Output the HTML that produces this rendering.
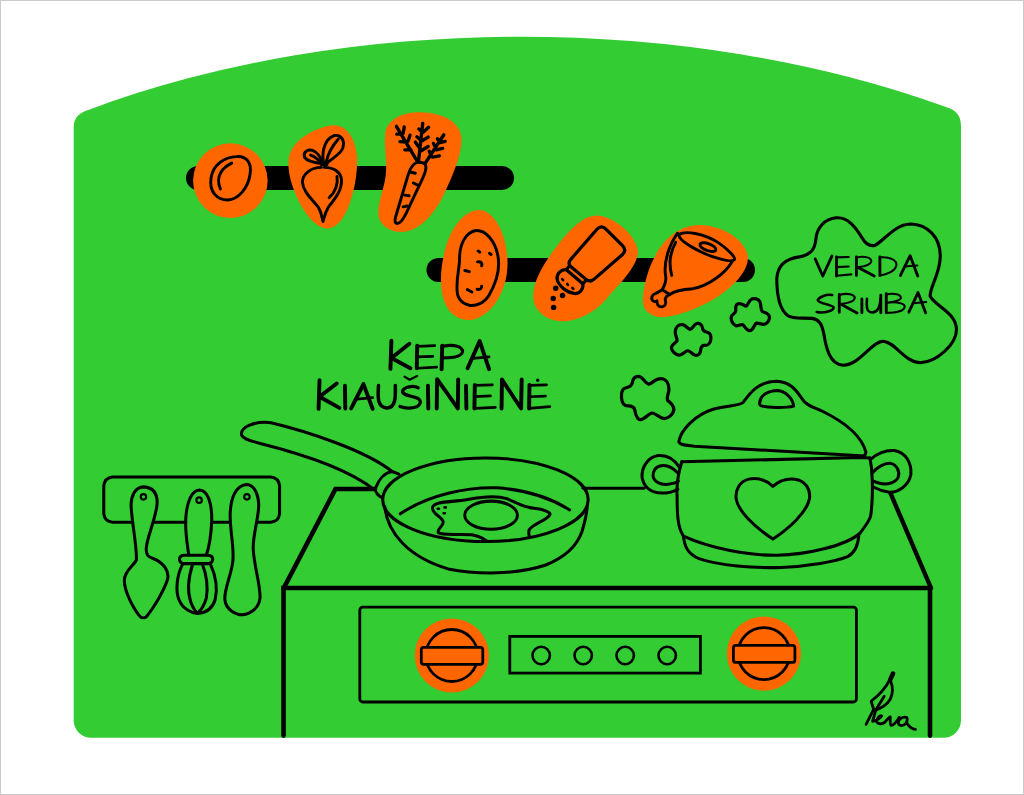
<!DOCTYPE html>
<html lang="lt">
<head>
<meta charset="utf-8">
<title>Kepa kiaušinienė – Verda sriuba</title>
<style>
html,body{margin:0;padding:0;background:#fff;width:1024px;height:795px;overflow:hidden;font-family:"Liberation Sans",sans-serif;}
svg{display:block;position:absolute;left:0;top:0}
.o{fill:#ff6600;stroke:none}
.l{fill:none;stroke:#000;stroke-linecap:round;stroke-linejoin:round}
</style>
</head>
<body>
<svg width="1024" height="795" viewBox="0 0 1024 795" role="img" aria-label="Kepa kiaušinienė. Verda sriuba.">
<rect x="0.5" y="0.5" width="1023" height="794" fill="#fff" stroke="#cbcbcb" stroke-width="1"/>
<!-- PANEL -->
<path d="M73.7 127 Q73.7 113.5 89.7 109.4 A764 416.5 0 0 1 946.7 107.3 Q961 111.5 961 126 L961 720.3 A17.5 17.5 0 0 1 943.5 737.8 L91.2 737.8 A17.5 17.5 0 0 1 73.7 720.3 Z" fill="#33cc33"/>
<!-- BARS -->
<rect x="186" y="166" width="328" height="24" rx="12" fill="#000"/>
<rect x="426.5" y="258" width="328.5" height="24" rx="12" fill="#000"/>
<!-- EGG + BEET  tile[170,100] -->
<g transform="translate(170,100) scale(0.1953125)">
<circle class="o" cx="309" cy="413" r="191"/>
<g class="l" stroke-width="15">
<path d="M340 290 C390 285 420 320 410 380 C400 450 350 510 295 512 C240 512 200 470 210 400 C220 330 280 292 340 290 Z"/>
<path d="M316 323 C270 345 230 390 258 455"/>
</g>
<path class="o" d="M850 130 C910 135 950 200 958 290 C962 400 930 540 880 610 C850 650 820 660 795 657 C750 650 700 600 660 520 C620 440 600 360 608 300 C620 220 700 170 760 148 C800 133 830 128 850 130 Z"/>
<g class="l" stroke-width="15">
<path d="M775 345 C720 345 678 380 678 420 C680 470 730 510 760 550 C775 575 778 600 783 622 C790 600 795 575 810 550 C850 500 880 460 878 410 C875 370 840 345 790 345"/>
<path d="M772 325 C740 320 700 310 690 295 C680 270 700 250 730 258 C750 265 770 290 778 315"/>
<path d="M720 282 C740 290 760 305 772 322"/>
<path d="M787 322 C775 270 790 200 840 182 C880 175 895 210 885 245 C875 275 830 300 805 322"/>
<path d="M800 318 C810 270 840 225 862 200"/>
<path d="M855 392 C862 430 845 475 815 500"/>
<path d="M775 330 L803 330" stroke-width="16"/>
</g>
</g>
<!-- CARROT tile[370,100] -->
<g transform="translate(370,100) scale(0.1953125)">
<path class="o" d="M250 63 C180 63 90 90 78 170 C70 260 95 330 75 420 C55 500 35 560 45 600 C60 650 110 678 170 675 C250 670 330 590 385 470 C430 370 470 280 468 200 C465 120 390 65 250 63 Z"/>
<g class="l" stroke-width="15">
<path d="M240 320 C215 330 205 350 195 385 L135 585 C125 615 125 630 140 632 C155 632 170 610 185 580 L270 400 C290 355 295 325 265 320 C255 318 248 318 240 320 Z"/>
<path d="M210 370 L232 375 M222 425 L248 437 M178 487 L200 490 M170 547 L190 543"/>
<path stroke-width="17" d="M248 316 L270 120 M268 165 L250 148 M272 165 L300 140 M262 207 L240 188 M265 210 L298 190 M258 252 L232 215 M262 260 L298 238"/>
<path stroke-width="17" d="M240 310 L135 135 M165 175 L137 175 M170 170 L175 138 M188 215 L153 213 M195 210 L205 180 M210 255 L178 255"/>
<path stroke-width="17" d="M285 320 L378 178 M355 215 L345 198 M358 218 L385 212 M338 250 L325 222 M340 255 L372 248 M315 290 L303 262 M320 292 L355 286"/>
</g>
</g>
<!-- POTATO tile[400,190] -->
<g transform="translate(400,190) scale(0.1953125)">
<path class="o" d="M400 103 C470 100 540 200 550 350 C558 480 500 610 400 655 C340 680 270 660 235 590 C200 520 205 420 225 330 C250 210 320 108 400 103 Z"/>
<g class="l" stroke-width="15">
<path d="M390 207 C440 205 485 260 500 330 C515 400 490 480 455 540 C430 580 390 595 355 590 C310 580 290 545 292 500 C290 440 305 400 305 350 C305 280 335 215 390 207 Z"/>
<path d="M400 312 L408 318 M458 324 L466 330 M397 368 C415 365 422 375 418 388 M332 412 L355 418 M395 508 C410 512 418 505 418 492 M345 510 L368 522"/>
</g>
</g>
<!-- SALT tile[520,190] -->
<g transform="translate(520,190) scale(0.1953125)">
<path class="o" d="M390 130 C470 130 590 220 603 310 C610 380 520 470 440 560 C380 630 290 670 220 672 C140 672 70 620 68 550 C65 465 122 375 192 283 C262 193 325 132 390 130 Z"/>
<g class="l" stroke-width="16.5">
<path d="M395 200 C410 185 425 185 440 200 L525 285 C540 300 540 315 525 330 L375 460 C362 470 350 468 335 455 L258 390 C248 380 248 370 260 355 Z"/>
<path d="M237 408 L322 480 C325 510 305 532 280 530 C240 525 195 490 190 455 C188 430 210 405 237 408 Z"/>
<path d="M250 392 L237 408 M340 460 L322 480"/>
<path d="M216 456 L221 461 M241 481 L246 486 M268 501 L273 506" stroke-width="13"/>
</g>
<circle cx="183" cy="503" r="14"/><circle cx="218" cy="540" r="14"/><circle cx="170" cy="555" r="14"/><circle cx="172" cy="601" r="14"/>
</g>
<!-- HAM tile[620,200] -->
<g transform="translate(620,200) scale(0.1953125)">
<path class="o" d="M400 128 C500 125 640 190 655 290 C660 380 540 480 440 530 C360 570 270 600 205 600 C150 595 110 560 118 500 C122 420 158 300 222 222 C268 165 335 130 400 128 Z"/>
<g class="l" stroke-width="15">
<path d="M302 177 C332 156 427 170 501 217 C548 248 592 292 586 305 C576 322 481 298 413 265 C359 238 298 204 302 177 Z"/>
<ellipse cx="450" cy="241" rx="43" ry="18" transform="rotate(20 450 241)"/>
<path d="M295 170 C251 231 221 319 234 393 C238 420 227 440 217 457"/>
<path d="M217 459 L184 478 C167 481 156 501 167 515 C173 521 184 520 189 516 C187 532 197 548 214 547 C234 545 238 525 231 508 L238 494 L254 484"/>
<path d="M219 461 L254 484"/>
<path d="M254 484 C285 461 325 457 373 454 C454 440 542 373 576 312"/>
<path d="M285 217 C258 265 248 325 265 386"/>
</g>
</g>
<!-- CLOUDS -->
<g class="l" stroke-width="3.2">
<path transform="translate(720,290) scale(0.05859375)" style="stroke-width:55" d="M450 275 C480 250 490 180 540 155 C590 135 660 150 680 200 C705 260 690 330 720 365 C770 385 840 400 845 460 C845 530 800 580 750 585 C700 590 660 560 625 565 C580 580 580 680 510 695 C450 700 430 620 390 595 C350 580 310 620 270 610 C210 590 180 500 195 450 C215 410 270 400 270 350 C265 310 260 250 310 235 C370 220 410 270 450 275 Z"/>
<path transform="translate(660,315) scale(0.05859375)" style="stroke-width:55" d="M515 245 C560 240 570 160 630 145 C680 135 720 170 725 220 C725 270 760 280 810 295 C860 310 875 370 865 430 C855 490 810 520 770 520 C720 515 700 540 695 590 C690 650 660 690 610 690 C560 685 520 610 475 610 C430 610 390 680 330 685 C270 680 200 620 195 560 C195 500 270 480 290 440 C300 400 255 350 260 280 C270 200 320 160 380 165 C440 170 470 240 515 245 Z"/>
<path transform="translate(612,368) scale(0.0703125)" style="stroke-width:46" d="M520 230 C570 225 610 150 690 150 C770 150 810 220 810 300 C810 370 770 410 790 460 C830 490 880 530 880 590 C875 660 800 720 740 720 C680 715 620 640 570 640 C520 645 470 730 410 735 C350 735 335 660 325 600 C315 550 280 540 230 540 C170 540 140 490 135 420 C130 350 140 300 190 285 C240 275 280 260 290 210 C295 150 330 120 380 120 C440 125 470 220 520 230 Z"/>
</g>
<!-- BUBBLE tile[768,210] -->
<g transform="translate(768,210) scale(0.1953125)" class="l">
<path stroke-width="16" d="M350 40 C410 35 450 90 480 140 C500 175 520 190 550 180 C600 150 650 75 730 72 C820 75 880 140 882 230 C885 320 830 390 830 440 C850 490 960 520 965 610 C965 690 860 780 780 782 C700 780 650 675 590 672 C530 672 470 795 385 795 C310 790 295 690 285 630 C275 580 260 560 225 555 C180 550 130 560 100 540 C60 510 45 430 45 350 C50 280 90 250 160 240 C220 230 240 200 245 150 C250 90 290 45 350 40 Z"/>
</g>
<!-- BUBBLE TEXT tile[805,250] scale 130/1024 -->
<g transform="translate(805,250) scale(0.126953)" class="l">
<g stroke-width="22.5">
<path d="M80 70 L140 205 L212 48"/>
<path d="M248 55 L248 205"/>
<path d="M405 55 L405 200 M415 135 L545 205"/>
<path d="M590 55 L590 200"/>
<path d="M752 200 L828 45 L888 205"/>
<path d="M270 350 L270 490 M280 425 L410 497"/>
<path d="M448 385 L448 495"/>
<path d="M597 355 L597 495"/>
<path d="M640 345 L640 495"/>
<path d="M818 490 L890 335 L950 495"/>
</g>
<g stroke-width="16">
<path d="M248 58 L345 55 M248 135 L345 130 M248 202 L365 192"/>
<path d="M405 60 C470 45 525 60 522 90 C515 120 460 130 415 135"/>
<path d="M590 58 C680 50 725 90 720 120 C710 170 640 195 590 200"/>
<path d="M785 130 L885 122"/>
<path d="M215 355 C170 345 110 370 100 395 C110 425 200 425 225 450 C230 480 150 500 92 488" stroke-width="20"/>
<path d="M270 355 C330 335 395 350 392 380 C385 410 330 420 280 425"/>
<path d="M488 385 C485 440 480 490 530 493 C580 490 592 440 595 385" stroke-width="20"/>
<path d="M640 350 C700 335 760 350 755 380 C745 405 690 410 650 415 C720 405 790 420 785 450 C775 485 700 495 640 495"/>
<path d="M850 420 L955 410"/>
</g>
</g>
<!-- TITLE tile[300,320] -->
<g transform="translate(300,320) scale(0.1953125)" class="l">
<g stroke-width="20">
<path d="M468 106 L463 250 M560 122 L468 195 L565 247"/>
<path d="M600 132 L598 247"/>
<path d="M728 132 L725 252"/>
<path d="M858 247 L920 108 L968 252"/>
<path d="M100 308 L95 455 M188 325 L100 393 L202 450"/>
<path d="M230 336 L232 453"/>
<path d="M262 453 L325 328 L372 455"/>
<path d="M655 336 L657 453"/>
<path d="M700 453 L702 303 L808 453 L810 305"/>
<path d="M850 336 L852 453"/>
<path d="M895 332 L893 453"/>
<path d="M1032 453 L1034 305 L1132 453 L1135 305"/>
<path d="M1175 332 L1173 453"/>
</g>
<g stroke-width="14">
<path d="M600 135 L690 131 M600 189 L680 186 M598 247 L700 241"/>
<path d="M728 136 C790 120 835 138 832 163 C825 188 780 194 735 194" stroke-width="16"/>
<path d="M885 197 L968 189"/>
<path d="M290 405 L372 397"/>
<path d="M402 336 C398 395 395 448 445 451 C490 448 490 395 488 336" stroke-width="18"/>
<path d="M535 290 L561 306 L600 287" stroke-width="11"/>
<path d="M605 347 C580 333 530 342 525 365 C525 388 580 388 605 402 C630 420 610 448 570 450 C545 453 525 448 512 443" stroke-width="17"/>
<path d="M895 335 L985 332 M895 392 L975 389 M893 453 L1000 447"/>
<path d="M1175 335 L1262 332 M1175 393 L1257 390 M1173 453 L1279 443"/>
<path d="M1217 308 L1217 309" stroke-width="17"/>
</g>
</g>
<!-- STOVE (real coords) -->
<g class="l" stroke-linecap="butt">
<path d="M283.5 735.6 L283.5 588 L930 588 L930 735.6" stroke-width="4.6" stroke-linejoin="miter"/>
<path d="M283.8 588 L335.5 489 L375 489" stroke-width="4.6" stroke-linejoin="miter"/>
<path d="M583 488.3 L644 488.3" stroke-width="2.9"/>
<path d="M890.4 493 L931 588" stroke-width="4.4"/>
<rect x="359.8" y="607.1" width="496.6" height="94.9" rx="3" stroke-width="2.8"/>
<rect x="509.8" y="636.4" width="190.6" height="36.7" stroke-width="2.8" stroke-linejoin="miter"/>
<circle cx="541.2" cy="655.5" r="8.7" stroke-width="2.6"/>
<circle cx="583.2" cy="655.5" r="8.7" stroke-width="2.6"/>
<circle cx="625.2" cy="655.5" r="8.7" stroke-width="2.6"/>
<circle cx="667.2" cy="655.5" r="8.7" stroke-width="2.6"/>
</g>
<!-- KNOBS -->
<circle class="o" cx="451.8" cy="655.5" r="37.1"/>
<circle class="l" cx="451.8" cy="655.5" r="26" stroke-width="2.8"/>
<rect x="421.3" y="647.3" width="61.5" height="17" rx="2.5" fill="#ff6600" stroke="#000" stroke-width="2.8"/>
<circle class="o" cx="763.9" cy="653.6" r="37.1"/>
<circle class="l" cx="763.9" cy="653.6" r="26" stroke-width="2.8"/>
<rect x="733.4" y="645.4" width="61.5" height="17" rx="2.5" fill="#ff6600" stroke="#000" stroke-width="2.8"/>
<!-- PAN HANDLE tile[230,410] -->
<g transform="translate(230,410) scale(0.1953125)" class="l" stroke-width="15.5">
<path d="M735 405 C600 300 350 220 150 170 C100 155 70 150 60 130 C50 90 120 55 210 65 C400 110 700 210 830 315"/>
<path d="M865 328 L830 315 C790 320 760 360 745 400 C740 420 760 440 780 450"/>
</g>
<!-- PAN tile[370,440] -->
<g transform="translate(370,440) scale(0.1953125)" class="l" stroke-width="15.5">
<ellipse cx="591" cy="306" rx="526" ry="214"/>
<path d="M75 340 C90 480 200 600 400 660 C550 690 750 690 900 640 C1000 600 1060 540 1085 470 C1100 420 1110 380 1112 340"/>
<path d="M155 378 C300 280 500 240 650 245 C800 255 930 300 1022 358"/>
<path d="M595 515 C580 505 560 490 520 485 C450 480 370 490 350 475 C340 455 375 445 375 420 C370 390 315 380 320 345 C330 310 420 320 500 305 C580 290 650 285 700 300 C750 320 780 345 840 350 C890 355 930 370 920 385 C900 415 830 430 815 460 C810 475 815 485 815 492"/>
<ellipse cx="620" cy="385" rx="135" ry="72"/>
<path d="M347 352 L353 352 M382 345 L388 345 M377 375 L383 375" stroke-width="14"/>
</g>
<!-- POT tile[630,370] -->
<g transform="translate(630,370) scale(0.1953125)" class="l" stroke-width="15.5">
<path d="M1198 438 C1205 435 1208 430 1208 420 C1183 330 1083 260 993 215 C943 190 903 185 883 150 C860 120 830 60 750 58 C660 60 620 110 580 165 C560 185 500 180 430 200 C330 230 260 310 250 365 C250 385 290 385 330 390 L1203 440"/>
<path d="M665 165 C665 130 710 105 755 105 C800 108 835 150 838 185 C800 195 700 195 670 182 C662 178 662 170 665 165 Z"/>
<path d="M265 470 L1183 448 L1228 450"/>
<path d="M265 470 C250 520 238 590 241 640 C241 700 243 740 246 765 C250 800 260 830 273.6 850.8 C403.6 910.8 603.6 950.8 753.6 948.8 C903.6 945.8 1103.6 900.8 1177.6 835.8 C1205 800 1228 770 1232 748 C1240 700 1243 600 1240 560 C1240 520 1235 480 1228 450"/>
<path d="M273.6 850.8 C278.6 900.8 293.6 940.8 353.6 965.8 C453.6 1000.8 633.6 1015.8 773.6 1010.8 C913.6 1005.8 1053.6 980.8 1113.6 955.8 C1153.6 935.8 1168.6 890.8 1171.6 845.8"/>
<path d="M255 500 C230 460 190 435 145 438 C90 445 58 500 62 550 C70 600 110 630 160 630 C200 630 230 620 245 610"/>
<path d="M248 530 C220 500 190 485 160 490 C130 495 115 520 118 545 C125 575 160 590 195 585 C220 582 240 575 248 570"/>
<path d="M1235 455 C1263 430 1303 410 1353 412 C1413 420 1443 480 1438 535 C1428 590 1373 630 1323 625 C1283 620 1258 605 1243 598"/>
<path d="M1243 525 C1263 500 1303 475 1333 478 C1368 485 1383 520 1373 550 C1358 580 1313 590 1278 580 C1263 577 1251 572 1243 568"/>
</g>
<!-- HEART tile[660,460] -->
<g transform="translate(660,460) scale(0.1953125)" class="l" stroke-width="15.5">
<path d="M578 135 C545 105 500 88 455 98 C405 110 385 155 390 200 C400 260 480 340 578 405 C660 350 750 270 765 200 C772 150 745 105 690 98 C645 93 605 110 578 135 Z"/>
</g>
<!-- RACK tile[95,465] -->
<g transform="translate(95,465) scale(0.1953125)" class="l" stroke-width="15.5">
<path d="M185 293 L90 293 C62 290 48 275 45 250 L45 107 C48 80 62 65 90 62 L900 62 C928 65 942 80 945 107 L945 250 C942 275 928 290 900 293 L835 293 M300 293 L465 293 M600 293 L690 293"/>
<path d="M250 112 C205 112 182 160 185 215 C190 300 215 420 212 485 C205 510 150 540 150 590 C150 650 200 740 230 775 C240 785 255 785 265 775 C300 730 350 650 370 590 C385 545 350 500 300 480 C270 470 262 460 262 430 C265 370 310 280 318 200 C320 150 300 115 250 112 Z"/>
<path d="M535 128 C495 130 470 190 465 270 C460 350 475 420 480 460 M570 460 C585 420 595 350 598 280 C598 200 580 130 535 128"/>
<path d="M455 462 L580 462 C610 465 610 500 580 505 L455 505 C425 500 425 465 455 462 Z"/>
<path d="M450 505 C420 560 410 640 430 690 C450 740 500 760 525 760 C560 758 600 740 615 690 C630 630 615 560 590 505"/>
<path d="M500 508 C480 570 470 640 490 700 C500 730 515 750 525 760 C540 745 560 720 570 680 C580 620 570 560 550 508"/>
<path d="M775 100 C720 105 695 170 692 250 C690 340 715 420 705 500 C695 570 660 640 665 690 C670 740 720 767 755 767 C800 762 840 730 845 680 C848 620 815 520 810 430 C808 350 840 270 838 200 C835 140 810 100 775 100 Z"/>
<g stroke-width="11"><circle cx="248" cy="163" r="14"/><circle cx="533" cy="180" r="14"/><circle cx="778" cy="163" r="14"/></g>
</g>
<!-- SIGNATURE tile[850,660] scale 80/795 -->
<g transform="translate(850,660) scale(0.100629)" class="l" stroke-width="28">
<path d="M428 135 L400 195" stroke-width="46"/>
<path d="M395 195 C370 250 300 340 210 410 L235 490 L160 640"/>
<path d="M400 200 C430 270 430 330 400 390 C370 440 310 480 245 500"/>
<path d="M340 360 L255 500 L225 610 C270 600 310 570 315 555 C300 545 270 570 265 610 C270 640 320 640 345 620 C370 590 390 570 400 565 C400 590 395 640 410 650 C440 650 470 600 490 570"/>
<path d="M560 570 C520 560 480 590 480 625 C485 660 530 660 555 630 C575 600 570 575 560 570 M560 620 C580 660 620 690 650 690"/>
</g>

</svg>
</body>
</html>
